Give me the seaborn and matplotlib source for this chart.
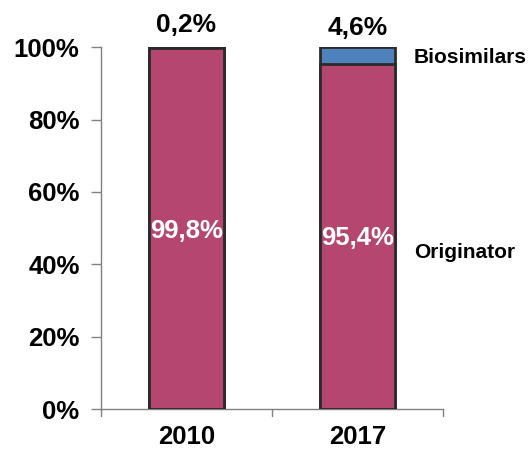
import matplotlib
matplotlib.use("Agg")
import matplotlib.pyplot as plt
import seaborn as sns
import pandas as pd

years = ["2010", "2017"]
originator = [99.8, 95.4]
biosimilars = [0.2, 4.6]
originator_labels = ["99,8%", "95,4%"]
biosimilar_labels = ["0,2%", "4,6%"]
y_ticks = [0, 20, 40, 60, 80, 100]
y_tick_labels = ["0%", "20%", "40%", "60%", "80%", "100%"]

sns.set_style("white")
plt.rcParams["font.family"] = ["Liberation Sans", "DejaVu Sans"]
plt.rcParams["font.weight"] = "bold"
plt.rcParams["text.color"] = "black"
plt.rcParams["xtick.labelcolor"] = "black"
plt.rcParams["ytick.labelcolor"] = "black"

df = pd.DataFrame({
    "year": years,
    "originator": originator,
    "total": [o + b for o, b in zip(originator, biosimilars)],
})

fig = plt.figure(figsize=(5.29, 4.53), dpi=100)
ax = fig.add_axes([0.191, 0.097, 0.646, 0.799])

pink = "#B5466F"
blue = "#4F81BD"
edge = "#2B2B2B"

# stacked bars: full-height biosimilar bar with the originator share drawn over it
sns.barplot(data=df, x="year", y="total", color=blue, width=0.44,
            edgecolor=edge, linewidth=2, saturation=1, ax=ax, zorder=2)
sns.barplot(data=df, x="year", y="originator", color=pink, width=0.44,
            edgecolor=edge, linewidth=2, saturation=1, ax=ax, zorder=3)

ax.set_ylim(0, 100)
ax.set_xlim(-0.5, 1.5)
ax.set_yticks(y_ticks)
ax.set_yticklabels(y_tick_labels)
ax.set_xlabel("")
ax.set_ylabel("")
ax.tick_params(axis="y", labelsize=18.5, length=7, width=1, color="#808080",
               direction="out", left=True, pad=8.5, labelcolor="black")
ax.tick_params(axis="x", labelsize=18.5, length=0, pad=11.5, labelcolor="black")
for lbl in ax.get_xticklabels() + ax.get_yticklabels():
    lbl.set_fontweight("bold")

# category separator ticks on the x-axis
for xb in [-0.5, 0.5, 1.5]:
    ax.plot([xb, xb], [0, -1.9], color="#808080", lw=1, clip_on=False, zorder=1)

for side in ["top", "right"]:
    ax.spines[side].set_visible(False)
for side in ["left", "bottom"]:
    ax.spines[side].set_color("#808080")
    ax.spines[side].set_linewidth(1)

orig_label_y = [47.2, 45.3]
bio_label_y = [104.1, 103.3]
for i in range(len(years)):
    ax.text(i, orig_label_y[i], originator_labels[i], ha="center", va="baseline",
            color="white", fontsize=18.5, fontweight="bold", zorder=5)
    ax.text(i, bio_label_y[i], biosimilar_labels[i], ha="center", va="baseline",
            color="black", fontsize=19, fontweight="bold", clip_on=False)

ax.text(1.33, 95.6, "Biosimilars", ha="left", va="baseline", fontsize=15,
        fontweight="bold", color="black", clip_on=False)
ax.text(1.33, 41.7, "Originator", ha="left", va="baseline", fontsize=15,
        fontweight="bold", color="black", clip_on=False)

fig.savefig("out.png", dpi=100)
